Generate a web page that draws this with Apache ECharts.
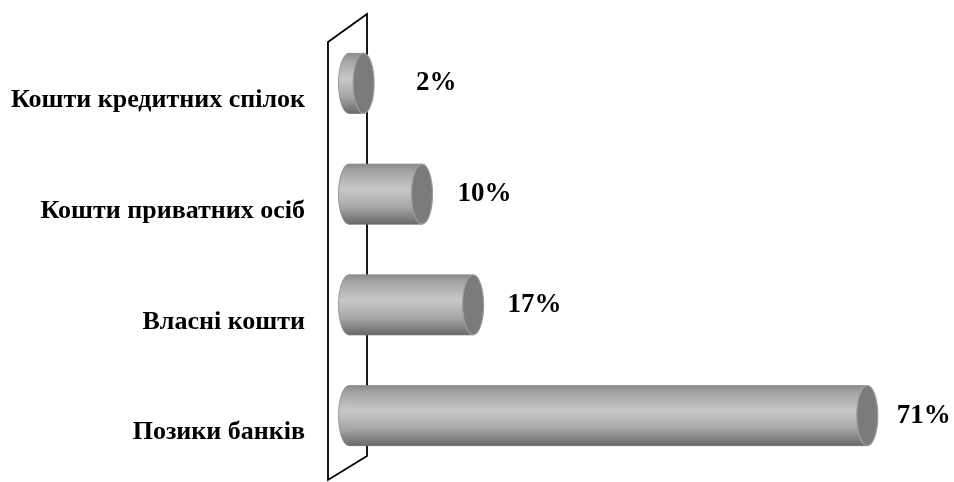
<!DOCTYPE html>
<html>
<head>
<meta charset="utf-8">
<script src="https://cdn.jsdelivr.net/npm/echarts@6/dist/echarts.min.js"></script>
<style>
  html, body { margin: 0; padding: 0; background: #fff; }
  #chart { width: 954px; height: 482px; }
</style>
</head>
<body>
<div id="chart"></div>
<script>
// Sources of financing, share of total (%)
const categories = ['Кошти кредитних спілок', 'Кошти приватних осіб', 'Власні кошти', 'Позики банків'];
const shares = [2, 10, 17, 71];

// Horizontal spacing between each cylinder's end and its value label (px)
const labelGap = [42, 25, 24, 19];

const SERIF = '"Liberation Serif", "Times New Roman", serif';

const bodyGradient = {
  type: 'linear', x: 0, y: 0, x2: 0, y2: 1,
  colorStops: [
    { offset: 0, color: '#8c8c8c' },
    { offset: 0.12, color: '#a4a4a4' },
    { offset: 0.42, color: '#c8c8c8' },
    { offset: 0.72, color: '#a6a6a6' },
    { offset: 0.92, color: '#7a7a7a' },
    { offset: 1, color: '#6a6a6a' }
  ]
};

const chart = echarts.init(document.getElementById('chart'), null, { renderer: 'canvas' });

chart.setOption({
  backgroundColor: '#ffffff',
  animation: false,
  grid: { left: 349, right: 21, top: 28, bottom: 11, containLabel: false },
  xAxis: { type: 'value', min: 0, max: 80, show: false },
  yAxis: {
    type: 'category',
    data: categories,
    inverse: true,
    axisLine: { show: false },
    axisTick: { show: false },
    splitLine: { show: false },
    axisLabel: {
      margin: 44,
      verticalAlign: 'top',
      lineHeight: 34,
      color: '#000',
      fontFamily: SERIF,
      fontWeight: 'bold',
      fontSize: 26
    }
  },
  series: [
    {
      // back wall of the 3D plot
      type: 'custom',
      silent: true,
      z: 1,
      data: [[0, 0]],
      encode: { x: 0, y: 1 },
      renderItem: function (params, api) {
        const cs = params.coordSys;
        const left = cs.x - 21, right = cs.x + 18;
        const top = cs.y, bottom = cs.y + cs.height;
        return {
          type: 'polygon',
          shape: {
            points: [
              [left, bottom + 9],
              [left, top + 14],
              [right, top - 14],
              [right, bottom - 15]
            ]
          },
          style: { fill: '#ffffff', stroke: '#000000', lineWidth: 1.8 }
        };
      }
    },
    {
      // cylinders
      type: 'custom',
      z: 2,
      data: shares.map(function (v, i) { return [v, i]; }),
      encode: { x: 0, y: 1 },
      renderItem: function (params, api) {
        const v = api.value(0);
        const i = api.value(1);
        const p0 = api.coord([0, i]);
        const p1 = api.coord([v, i]);
        const band = api.size([0, 1])[1];
        const h = band * 0.542;
        const ry = h / 2;
        const rx = 10.5;
        const yc = p0[1];
        return {
          type: 'group',
          children: [
            {
              type: 'ellipse',
              shape: { cx: p0[0], cy: yc, rx: rx, ry: ry },
              style: { fill: bodyGradient, stroke: '#8a8a8a', lineWidth: 0.8 }
            },
            {
              type: 'rect',
              shape: { x: p0[0], y: yc - ry, width: p1[0] - p0[0], height: h },
              style: { fill: bodyGradient }
            },
            {
              type: 'line',
              shape: { x1: p0[0], y1: yc - ry, x2: p1[0], y2: yc - ry },
              style: { stroke: '#8a8a8a', lineWidth: 0.8 }
            },
            {
              type: 'line',
              shape: { x1: p0[0], y1: yc + ry, x2: p1[0], y2: yc + ry },
              style: { stroke: '#6e6e6e', lineWidth: 0.8 }
            },
            {
              type: 'ellipse',
              shape: { cx: p1[0], cy: yc, rx: rx, ry: ry },
              style: { fill: '#7b7b7b', stroke: '#9e9e9e', lineWidth: 1.2 }
            },
            {
              type: 'text',
              style: {
                text: v + '%',
                x: p1[0] + rx + labelGap[i],
                y: yc,
                align: 'left',
                verticalAlign: 'middle',
                fill: '#000',
                font: 'bold 27px ' + SERIF
              }
            }
          ]
        };
      }
    }
  ]
});
</script>
</body>
</html>
